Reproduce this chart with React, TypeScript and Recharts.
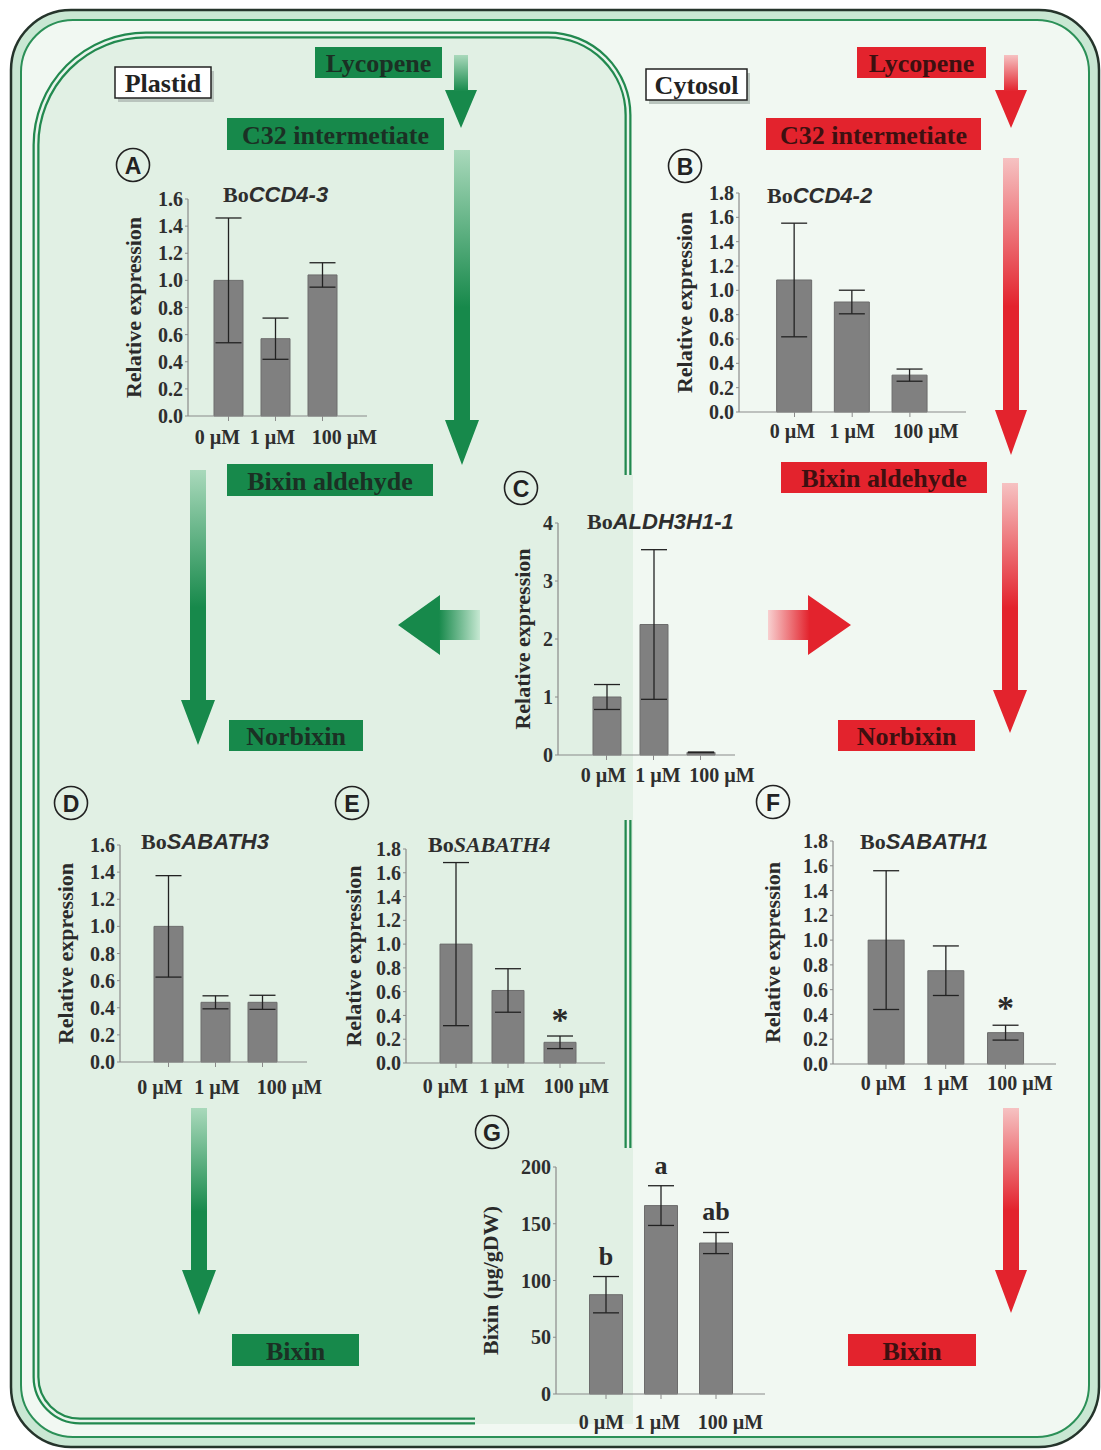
import React from 'react';
import { BarChart, Bar, XAxis, YAxis, ErrorBar, LabelList } from 'recharts';

const SERIF = '"Liberation Serif", "Times New Roman", serif';
const SANS = '"Liberation Sans", Arial, sans-serif';
const GREEN = '#17894b';
const RED = '#e3232d';
const AX = '#8a8a8a';

// treatment doses (x categories)
const doses = ['0 µM', '1 µM', '100 µM'];

// relative expression, mean and error
const ccd43Mean = [1.0, 0.57, 1.04];
const ccd43Err = [0.46, 0.152, 0.09];
const ccd42Mean = [1.085, 0.904, 0.303];
const ccd42Err = [0.467, 0.097, 0.05];
const aldhMean = [1.0, 2.25, 0.046];
const aldhErr = [0.215, 1.29, 0.005];
const sab3Mean = [1.0, 0.44, 0.44];
const sab3Err = [0.374, 0.048, 0.052];
const sab4Mean = [1.0, 0.61, 0.174];
const sab4Err = [0.686, 0.183, 0.053];
const sab1Mean = [1.0, 0.753, 0.253];
const sab1Err = [0.56, 0.2, 0.06];
const bixinMean = [87.5, 166, 133];
const bixinErr = [16, 17.5, 9.3];

const sab4Sig = ['', '', '*'];
const sab1Sig = ['', '', '*'];
const bixinSig = ['b', 'a', 'ab'];

const ticks16 = [0, 0.2, 0.4, 0.6, 0.8, 1.0, 1.2, 1.4, 1.6];
const ticks18 = [0, 0.2, 0.4, 0.6, 0.8, 1.0, 1.2, 1.4, 1.6, 1.8];
const ticks4 = [0, 1, 2, 3, 4];
const ticks200 = [0, 50, 100, 150, 200];

const plastidSteps = ['Lycopene', 'C32 intermetiate', 'Bixin aldehyde', 'Norbixin', 'Bixin'];
const cytosolSteps = ['Lycopene', 'C32 intermetiate', 'Bixin aldehyde', 'Norbixin', 'Bixin'];

const rows = (mean: number[], err: number[], sig?: string[]) =>
  doses.map((d, i) => ({ dose: d, mean: mean[i], err: err[i], sig: sig ? sig[i] : '' }));

const f1 = (v: number) => v.toFixed(1);
const f0 = (v: number) => String(v);

// x0/xEnd/yTop/yBot: plot box on the page; c0/s: first band centre and band width; sh: tick label nudges
const panels = [
  { id: 'A', data: rows(ccd43Mean, ccd43Err), max: 1.6, ticks: ticks16, fmt: f1,
    x0: 188, xEnd: 367, yTop: 199, yBot: 416, c0: 228.5, s: 47, bar: 29, dx: 55, xo: 9, sh: [-11, -3, 22],
    yLabel: 'Relative expression' },
  { id: 'B', data: rows(ccd42Mean, ccd42Err), max: 1.8, ticks: ticks18, fmt: f1,
    x0: 739, xEnd: 966, yTop: 193, yBot: 412, c0: 794.5, s: 57.7, bar: 35, dx: 55, xo: 7, sh: [-2, 0, 16],
    yLabel: 'Relative expression' },
  { id: 'C', data: rows(aldhMean, aldhErr), max: 4, ticks: ticks4, fmt: f0,
    x0: 558, xEnd: 735, yTop: 523, yBot: 755, c0: 606.5, s: 47, bar: 28, dx: 36, xo: 8, sh: [-3, 4.5, 21.5],
    yLabel: 'Relative expression' },
  { id: 'D', data: rows(sab3Mean, sab3Err), max: 1.6, ticks: ticks16, fmt: f1,
    x0: 120, xEnd: 307, yTop: 845, yBot: 1062, c0: 168.5, s: 47, bar: 29, dx: 55, xo: 13, sh: [-8.5, 1.5, 27],
    yLabel: 'Relative expression' },
  { id: 'E', data: rows(sab4Mean, sab4Err, sab4Sig), max: 1.8, ticks: ticks18, fmt: f1,
    x0: 406, xEnd: 605, yTop: 849, yBot: 1063, c0: 456, s: 52, bar: 32, dx: 53, xo: 11, sh: [-10.5, -6, 16.5],
    yLabel: 'Relative expression', sigSize: 34, sigGap: 5 },
  { id: 'F', data: rows(sab1Mean, sab1Err, sab1Sig), max: 1.8, ticks: ticks18, fmt: f1,
    x0: 833, xEnd: 1056, yTop: 841, yBot: 1064, c0: 886, s: 59.7, bar: 36, dx: 61, xo: 7, sh: [-2.5, 0, 14.5],
    yLabel: 'Relative expression', sigSize: 34, sigGap: 6 },
  { id: 'G', data: rows(bixinMean, bixinErr, bixinSig), max: 200, ticks: ticks200, fmt: f0,
    x0: 556, xEnd: 765, yTop: 1167, yBot: 1394, c0: 606, s: 55, bar: 33, dx: 66, xo: 16, sh: [-4.5, -3.5, 14.5],
    yLabel: 'Bixin (µg/gDW)', sigSize: 26, sigGap: 12 },
];

const titles = [
  { gene: 'CCD4-3', x: 223, y: 202, italicFont: SANS },
  { gene: 'CCD4-2', x: 767, y: 203, italicFont: SANS },
  { gene: 'ALDH3H1-1', x: 587, y: 529, italicFont: SANS },
  { gene: 'SABATH3', x: 141, y: 849, italicFont: SANS },
  { gene: 'SABATH4', x: 428, y: 852, italicFont: SERIF },
  { gene: 'SABATH1', x: 860, y: 849, italicFont: SANS },
];

const letters = [
  { t: 'A', x: 133, y: 165 }, { t: 'B', x: 685, y: 166 }, { t: 'C', x: 521, y: 488 },
  { t: 'D', x: 71, y: 803 }, { t: 'E', x: 352, y: 803 }, { t: 'F', x: 773, y: 802 }, { t: 'G', x: 492, y: 1132 },
];

const greenBoxes = [
  [315, 47, 127, 31], [227, 118, 217, 32], [227, 464, 206, 32], [229, 720, 134, 31], [232, 1334, 127, 32],
];
const redBoxes = [
  [857, 47, 129, 31], [766, 118, 215, 32], [781, 462, 206, 31], [838, 720, 137, 31], [848, 1334, 128, 32],
];

const greenDown = [
  [461, 55, 90, 128, 7, 16], [462, 150, 420, 465, 8, 17], [198, 470, 700, 745, 8, 17], [199, 1108, 1270, 1315, 8, 17],
];
const redDown = [
  [1011, 55, 90, 128, 7, 16], [1011, 158, 410, 455, 8, 16], [1010, 483, 690, 733, 8, 17], [1011, 1108, 1270, 1313, 8, 16],
];

const vArrow = (a: number[]) => {
  const [cx, y1, yh, y2, sw, hw] = a;
  return `M${cx - sw} ${y1} L${cx + sw} ${y1} L${cx + sw} ${yh} L${cx + hw} ${yh} L${cx} ${y2} L${cx - hw} ${yh} L${cx - sw} ${yh} Z`;
};

const Panel = ({ p }: any) => {
  const YW = 80, MT = 40, MR = 30, XH = 50;
  const plotW = p.xEnd - p.x0;
  const plotH = p.yBot - p.yTop;
  const pl = p.c0 - p.x0 - p.s / 2;
  const pr = plotW - pl - 3 * p.s;
  const W = YW + plotW + MR;
  const H = MT + plotH + XH;
  const lx = YW - p.dx;
  const ly = MT + plotH / 2;

  const renderSig = (props: any) => {
    const { x, y, width, height, value, index } = props;
    if (!value) return null;
    const row = p.data[index];
    const top = Number(y) - row.err * (Number(height) / row.mean);
    return (
      <text x={Number(x) + Number(width) / 2} y={top - p.sigGap} textAnchor="middle"
        fontFamily={SERIF} fontWeight={700} fontSize={p.sigSize} fill="#2a2a2a">{value}</text>
    );
  };

  const renderTick = (props: any) => {
    const { x, y, payload, index } = props;
    return (
      <text x={Number(x) + (p.sh[index] || 0)} y={y} dy="0.71em" textAnchor="middle"
        fontFamily={SERIF} fontWeight={700} fontSize={20} fill="#2e2e2e">{payload.value}</text>
    );
  };

  return (
    <div style={{ position: 'absolute', left: p.x0 - YW, top: p.yTop - MT, width: W, height: H }}>
      <BarChart width={W} height={H} data={p.data} margin={{ top: MT, right: MR, left: 0, bottom: 0 }}>
        <XAxis dataKey="dose" height={XH} padding={{ left: pl, right: pr }} interval={0}
          tickSize={5} tickMargin={p.xo} axisLine={{ stroke: AX, strokeWidth: 1.2 }} tickLine={{ stroke: AX }}
          tick={renderTick} />
        <YAxis width={YW} type="number" domain={[0, p.max]} ticks={p.ticks} interval={0}
          tickFormatter={p.fmt} tickSize={3} tickMargin={2}
          axisLine={{ stroke: AX, strokeWidth: 1.2 }} tickLine={{ stroke: AX }}
          tick={{ fontFamily: SERIF, fontWeight: 700, fontSize: 20, fill: '#2e2e2e' }}
          label={() => (
            <text x={lx} y={ly} transform={`rotate(-90 ${lx} ${ly})`} textAnchor="middle" dominantBaseline="central"
              fontFamily={SERIF} fontWeight={700} fontSize={22} fill="#2a2a2a">{p.yLabel}</text>
          )} />
        <Bar dataKey="mean" fill="#808080" stroke="#6c6c6c" barSize={p.bar} isAnimationActive={false}>
          <ErrorBar dataKey="err" width={13} stroke="#222" strokeWidth={1.3} direction="y" />
          {p.sigSize ? <LabelList dataKey="sig" content={renderSig} /> : null}
        </Bar>
      </BarChart>
    </div>
  );
};

const Background = () => (
  <svg width={1101} height={1450} style={{ position: 'absolute', left: 0, top: 0 }}>
    <defs>
      <linearGradient id="gDown" x1="0" y1="0" x2="0" y2="1">
        <stop offset="0" stopColor="#a9d9bb" />
        <stop offset="0.5" stopColor={GREEN} />
        <stop offset="1" stopColor={GREEN} />
      </linearGradient>
      <linearGradient id="rDown" x1="0" y1="0" x2="0" y2="1">
        <stop offset="0" stopColor="#f6c2c2" />
        <stop offset="0.5" stopColor={RED} />
        <stop offset="1" stopColor={RED} />
      </linearGradient>
      <linearGradient id="gLeft" x1="0" y1="0" x2="1" y2="0">
        <stop offset="0" stopColor={GREEN} />
        <stop offset="0.5" stopColor={GREEN} />
        <stop offset="1" stopColor="#c6e8d2" />
      </linearGradient>
      <linearGradient id="rRight" x1="0" y1="0" x2="1" y2="0">
        <stop offset="0" stopColor="#f8d0d0" />
        <stop offset="0.5" stopColor={RED} />
        <stop offset="1" stopColor={RED} />
      </linearGradient>
    </defs>

    {/* cell wall */}
    <rect x={11} y={10} width={1088} height={1437} rx={60} fill="#c9e7d3" stroke="#25342b" strokeWidth={2.5} />
    <rect x={21} y={20} width={1068} height={1417} rx={52} fill="#f1f8f2" stroke="#2b9057" strokeWidth={2} />

    {/* plastid */}
    <path d="M36 145 A110 110 0 0 1 146 35 L548 35 A80 80 0 0 1 628 115 L628 475 L633 475 L633 1424 L80 1424 A44 44 0 0 1 36 1380 Z"
      fill="#e1f0e4" />
    <path d="M475 1421 L80 1421 A44 44 0 0 1 36 1377 L36 145 A110 110 0 0 1 146 35 L548 35 A80 80 0 0 1 628 115 L628 475"
      fill="none" stroke="#22894f" strokeWidth={7} />
    <path d="M475 1421 L80 1421 A44 44 0 0 1 36 1377 L36 145 A110 110 0 0 1 146 35 L548 35 A80 80 0 0 1 628 115 L628 475"
      fill="none" stroke="#e9f4ec" strokeWidth={2.5} />
    <path d="M628 820 L628 1148" fill="none" stroke="#22894f" strokeWidth={7} />
    <path d="M628 820 L628 1148" fill="none" stroke="#e9f4ec" strokeWidth={2.5} />

    {/* compartment labels */}
    <rect x={118} y={71} width={96} height={31} fill="#b9c4bd" />
    <rect x={115} y={67} width={96} height={31} fill="#fff" stroke="#222" strokeWidth={1.5} />
    <text x={163} y={83} textAnchor="middle" dominantBaseline="central" fontFamily={SERIF} fontWeight={700} fontSize={26} fill="#222">Plastid</text>
    <rect x={649} y={73} width={101} height={31} fill="#b9c4bd" />
    <rect x={646} y={69} width={101} height={31} fill="#fff" stroke="#222" strokeWidth={1.5} />
    <text x={696.5} y={85} textAnchor="middle" dominantBaseline="central" fontFamily={SERIF} fontWeight={700} fontSize={26} fill="#222">Cytosol</text>

    {/* arrows */}
    {greenDown.map((a, i) => <path key={'g' + i} d={vArrow(a)} fill="url(#gDown)" />)}
    {redDown.map((a, i) => <path key={'r' + i} d={vArrow(a)} fill="url(#rDown)" />)}
    <path d="M480 610 L440 610 L440 595 L398 625 L440 655 L440 640 L480 640 Z" fill="url(#gLeft)" />
    <path d="M768 610 L808 610 L808 595 L851 625 L808 655 L808 640 L768 640 Z" fill="url(#rRight)" />

    {/* metabolite boxes */}
    {greenBoxes.map((b, i) => (
      <g key={'gb' + i}>
        <rect x={b[0]} y={b[1]} width={b[2]} height={b[3]} fill={GREEN} />
        <text x={b[0] + b[2] / 2} y={b[1] + b[3] / 2 + 1} textAnchor="middle" dominantBaseline="central"
          fontFamily={SERIF} fontWeight={700} fontSize={26} fill="#1b3024">{plastidSteps[i]}</text>
      </g>
    ))}
    {redBoxes.map((b, i) => (
      <g key={'rb' + i}>
        <rect x={b[0]} y={b[1]} width={b[2]} height={b[3]} fill={RED} />
        <text x={b[0] + b[2] / 2} y={b[1] + b[3] / 2 + 1} textAnchor="middle" dominantBaseline="central"
          fontFamily={SERIF} fontWeight={700} fontSize={26} fill="#3d1010">{cytosolSteps[i]}</text>
      </g>
    ))}

    {/* panel letters */}
    {letters.map((l) => (
      <g key={l.t}>
        <circle cx={l.x} cy={l.y} r={16.5} fill="none" stroke="#222" strokeWidth={1.6} />
        <text x={l.x} y={l.y + 1} textAnchor="middle" dominantBaseline="central" fontFamily={SANS} fontWeight={700} fontSize={23} fill="#222">{l.t}</text>
      </g>
    ))}

    {/* gene titles */}
    {titles.map((t) => (
      <text key={t.gene} x={t.x} y={t.y} fontWeight={700} fontSize={22} fill="#2e2e2e">
        <tspan fontFamily={SERIF}>Bo</tspan>
        <tspan fontFamily={t.italicFont} fontStyle="italic">{t.gene}</tspan>
      </text>
    ))}
  </svg>
);

export default function App() {
  return (
    <div style={{ position: 'absolute', left: 0, top: 0, width: 1101, height: 1450, background: '#fff', overflow: 'hidden' }}>
      <Background />
      {panels.map((p) => <Panel key={p.id} p={p} />)}
    </div>
  );
}
